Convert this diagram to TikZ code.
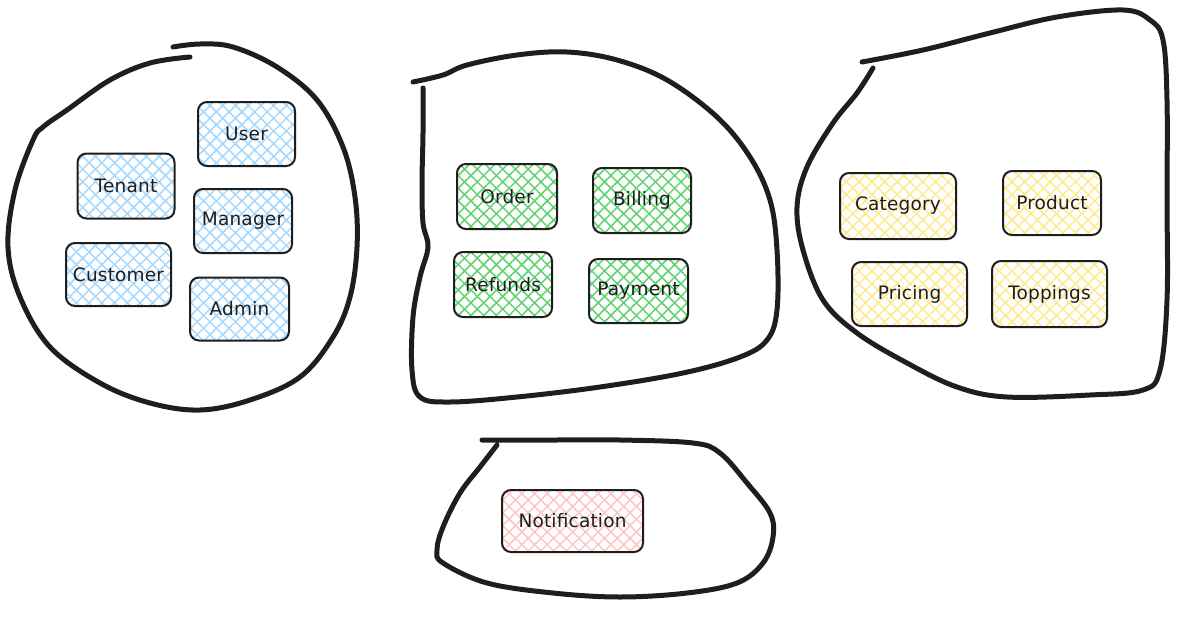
\documentclass[tikz,border=0pt]{standalone}
\usepackage{fontspec}
\setmainfont{DejaVu Sans}[LetterSpace=1]
\usetikzlibrary{patterns.meta}
\definecolor{ink}{HTML}{1E1E1E}
\definecolor{hblue}{HTML}{A5D8FF}
\definecolor{hgreen}{HTML}{5FD16F}
\definecolor{hyellow}{HTML}{FFE98F}
\definecolor{hred}{HTML}{FFC4C4}
\tikzset{
  blob/.style={draw=ink, line width=5pt, line cap=round, line join=round},
  card/.style={draw=ink, line width=2pt, rounded corners=9pt, minimum height=64pt,
    inner sep=0pt, font=\fontsize{18.5}{22}\selectfont, text=ink},
  hatch/.style={preaction={pattern={Lines[angle=45,distance=9pt,line width=1.5pt]}, pattern color=#1},
    pattern={Lines[angle=-45,distance=9pt,line width=1.5pt]}, pattern color=#1},
}
\begin{document}
\begin{tikzpicture}[x=1pt,y=-1pt]
\useasboundingbox (0,0) rectangle (1183,621);
% group outlines
\draw[blob] plot[smooth, tension=0.6] coordinates {(173,47) (200,44) (233,47) (277,67) (317,100) (343,147) (355,197) (357,247) (350,297) (333,337) (300,377) (250,400) (200,410) (150,403) (100,383) (50,347) (20,297) (8,247) (15,190) (33,140) (43,127) (67,110) (110,80) (150,63) (190,57)};
\draw[blob] plot[smooth, tension=0.6] coordinates {(413,82) (443,75) (467,65) (517,55) (567,52) (617,60) (667,80) (717,117) (750,157) (770,200) (777,250) (777,310) (767,340) (740,357) (683,373) (600,387) (517,397) (450,402) (420,397) (412,370) (413,317) (420,277) (428,247) (423,223) (422,183) (423,133) (423,88)};
\draw[blob] plot[smooth, tension=0.6] coordinates {(862,62) (923,50) (990,33) (1057,17) (1123,10) (1150,20) (1163,40) (1167,100) (1167,200) (1167,300) (1160,370) (1143,390) (1090,395) (1007,397) (957,387) (907,363) (857,333) (823,300) (803,250) (797,207) (807,167) (833,123) (857,93) (873,68)};
\draw[blob] plot[smooth, tension=0.6] coordinates {(482,440) (553,440) (620,440) (693,443) (720,453) (747,483) (770,513) (773,537) (763,563) (737,583) (687,593) (620,597) (553,593) (487,583) (443,563) (437,550) (443,527) (460,493) (480,467) (497,445)};
% blue
\node[card, hatch=hblue, minimum width=97pt] (user) at (246.5,134) {User};
\node[card, hatch=hblue, minimum width=97pt, minimum height=65pt] (tenant) at (126,186) {Tenant};
\node[card, hatch=hblue, minimum width=98pt] (manager) at (243,221) {Manager};
\node[card, hatch=hblue, minimum width=105pt, minimum height=63pt] (customer) at (118.5,274.5) {Customer};
\node[card, hatch=hblue, minimum width=99pt, minimum height=63pt] (admin) at (239.5,309) {Admin};
% green
\node[card, hatch=hgreen, minimum width=100pt, minimum height=65pt] (order) at (507,196.5) {Order};
\node[card, hatch=hgreen, minimum width=98pt, minimum height=65pt] (billing) at (642,200.5) {Billing};
\node[card, hatch=hgreen, minimum width=98pt, minimum height=65pt] (refunds) at (503,284.5) {Refunds};
\node[card, hatch=hgreen, minimum width=99pt] (payment) at (638.5,291) {Payment};
% yellow
\node[card, hatch=hyellow, minimum width=116pt, minimum height=66pt] (category) at (898,206) {Category};
\node[card, hatch=hyellow, minimum width=98pt] (product) at (1052,203) {Product};
\node[card, hatch=hyellow, minimum width=115pt] (pricing) at (909.5,294) {Pricing};
\node[card, hatch=hyellow, minimum width=115pt, minimum height=66pt] (toppings) at (1049.5,294) {Toppings};
% red
\node[card, hatch=hred, minimum width=141pt, minimum height=62pt] (notification) at (572.5,521) {Notification};
\end{tikzpicture}
\end{document}
